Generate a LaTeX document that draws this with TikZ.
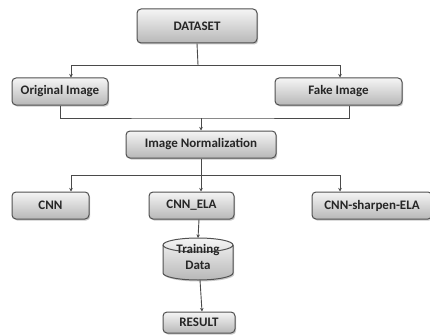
\documentclass[tikz,border=0pt]{standalone}
\usepackage{fontspec}
\setmainfont{Carlito}
\usetikzlibrary{shadows,arrows.meta,calc}
\definecolor{bordc}{HTML}{505050}
\definecolor{linec}{HTML}{4A4A4A}
\definecolor{txtc}{HTML}{262626}
\tikzset{
  box/.style={draw=bordc, line width=1pt, rounded corners=4pt,
    top color=black!4, bottom color=black!28, text=txtc,
    font=\fontsize{13}{15}\selectfont\bfseries,
    drop shadow={shadow xshift=1.2pt, shadow yshift=-1.5pt, opacity=0.35, fill=black!60},
    inner sep=0pt},
  conn/.style={draw=linec, line width=0.9pt},
  arr/.style={conn, -{Stealth[length=3.5pt,width=3.5pt]}},
}
\begin{document}
\begin{tikzpicture}[x=1pt,y=-1pt]
\useasboundingbox (0,0) rectangle (430,334);
\fill[white] (0,0) rectangle (430,334);
\node[box, minimum width=120pt, minimum height=34pt] (ds) at (197,26) {DATASET};
\node[box, minimum width=96pt, minimum height=27pt] (orig) at (60,91.5) {Original Image};
\node[box, minimum width=127pt, minimum height=27pt] (fake) at (338.5,91.5) {Fake Image};
\node[box, minimum width=150pt, minimum height=27pt] (norm) at (201,144.5) {Image Normalization};
\node[box, minimum width=77pt, minimum height=27pt] (cnn) at (50.5,205.5) {CNN};
\node[box, minimum width=85pt, minimum height=27pt] (cela) at (191.5,205.5) {CNN\_ELA};
\node[box, minimum width=120pt, minimum height=27pt] (csela) at (372,205.5) {CNN-sharpen-ELA};
\node[box, minimum width=72pt, minimum height=21pt] (res) at (199,322.5) {RESULT};
% cylinder
\path[drop shadow={shadow xshift=1.2pt, shadow yshift=-1.5pt, opacity=0.35, fill=black!60}, top color=black!4, bottom color=black!28]
  (163,245) -- (163,273) arc[start angle=180,end angle=360,x radius=35,y radius=-7] -- (233,245)
  arc[start angle=0,end angle=180,x radius=35,y radius=-7] -- cycle;
\draw[draw=bordc, line width=1pt]
  (163,245) -- (163,273) arc[start angle=180,end angle=360,x radius=35,y radius=-7] -- (233,245)
  arc[start angle=0,end angle=180,x radius=35,y radius=-7] -- cycle;
\draw[draw=bordc, line width=1pt] (163,245) arc[start angle=180,end angle=360,x radius=35,y radius=-7];
\coordinate (cyltop) at (198,238);
\coordinate (cylbot) at (200,280);
\node[text=txtc, font=\fontsize{13}{15}\selectfont\bfseries, align=center, inner sep=0pt] (train) at (198,257) {Training\\[1pt]Data};
% connectors
\coordinate (j1) at (198,65);
\draw[conn] (ds.south) -- (j1);
\draw[arr] (j1) -| ([xshift=11pt]orig.north);
\draw[arr] (j1) -| ([xshift=1.5pt]fake.north);
\coordinate (j2) at (201,118);
\draw[conn] (orig.south) |- (j2) -| ([xshift=10.5pt]fake.south);
\draw[arr] (j2) -- (j2 |- norm.north);
\coordinate (j3) at (201,175);
\draw[conn] (norm.south) -- (j3);
\draw[arr] (j3) -| ([xshift=20.5pt]cnn.north);
\draw[arr] (j3) -- ([xshift=9.5pt]cela.north);
\draw[arr] (j3) -| ([xshift=-32pt]csela.north);
\draw[arr] ([xshift=7.5pt]cela.south) -- (cyltop);
\draw[arr] (cylbot) -- ([xshift=3pt]res.north);
\end{tikzpicture}
\end{document}
